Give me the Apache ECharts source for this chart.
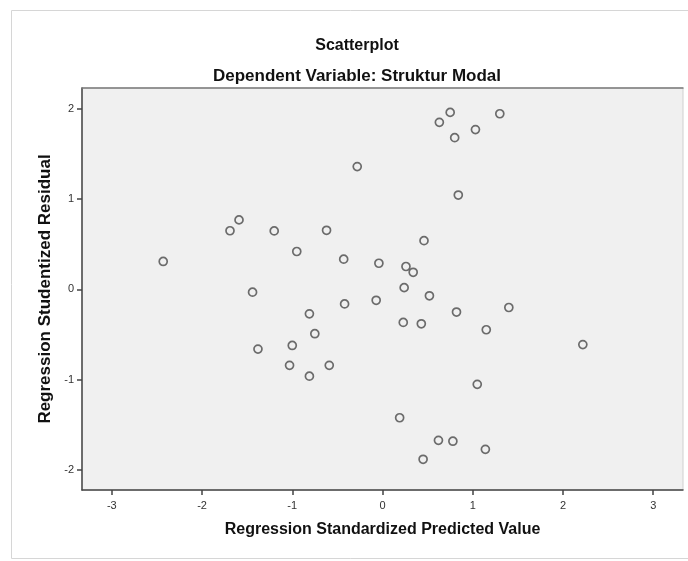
<!DOCTYPE html>
<html>
<head>
<meta charset="utf-8">
<script src="https://cdn.jsdelivr.net/npm/echarts@6/dist/echarts.min.js"></script>
<style>
html,body{margin:0;padding:0;background:#fff;}
#chart{width:688px;height:561px;}
</style>
</head>
<body>
<div id="chart"></div>
<script>
// Regression Standardized Predicted Value (x)
const predicted = [0.75, 0.63, 1.03, 0.80, 1.30, -0.28, 0.84, -1.20, -0.62, -0.95, 0.46, -0.43, -0.04, 0.26, 0.34, -1.44, 0.24, 0.52, -0.07, -2.43, -1.59, -1.69, -0.42, -0.81, 0.82, 0.23, 0.43, 1.15, -0.75, -1.38, -1.00, -1.03, -0.59, -0.81, 1.05, 0.19, 0.62, 0.78, 1.14, 0.45, 1.40, 2.22];
// Regression Studentized Residual (y)
const residual = [1.96, 1.85, 1.77, 1.68, 1.945, 1.36, 1.045, 0.648, 0.655, 0.42, 0.54, 0.335, 0.29, 0.254, 0.19, -0.03, 0.02, -0.07, -0.12, 0.31, 0.77, 0.65, -0.16, -0.27, -0.25, -0.365, -0.38, -0.446, -0.49, -0.66, -0.62, -0.84, -0.84, -0.96, -1.05, -1.42, -1.67, -1.68, -1.77, -1.88, -0.20, -0.61];
const xTicks = [-3, -2, -1, 0, 1, 2, 3];
const yTicks = [-2, -1, 0, 1, 2];

const chart = echarts.init(document.getElementById('chart'), null, {renderer: 'canvas'});
const font = 'Liberation Sans, Arial, sans-serif';
chart.setOption({
  animation: false,
  backgroundColor: '#ffffff',
  graphic: [{
    type: 'rect', left: 11, top: 10, z: -10,
    shape: {width: 700, height: 548},
    style: {fill: '#ffffff', stroke: '#d6d6d6', lineWidth: 1}
  }],
  title: [
    {text: 'Scatterplot', left: 352, top: 33, textAlign: 'center',
     textStyle: {fontFamily: font, fontSize: 16, fontWeight: 'bold', color: '#111'}},
    {text: 'Dependent Variable: Struktur Modal', left: 352, top: 63, textAlign: 'center',
     textStyle: {fontFamily: font, fontSize: 17, fontWeight: 'bold', color: '#111'}}
  ],
  grid: {left: 82, top: 88, width: 601, height: 402, show: true,
         backgroundColor: '#f0f0f0', borderColor: '#d0d0d0', borderWidth: 1},
  xAxis: [{
    type: 'value', min: -3.33, max: 3.33,
    name: 'Regression Standardized Predicted Value',
    nameLocation: 'middle', nameGap: 32,
    nameTextStyle: {fontFamily: font, fontSize: 16, fontWeight: 'bold', color: '#111'},
    axisLine: {show: true, onZero: false, lineStyle: {color: '#444', width: 1.5}},
    axisTick: {show: true, length: 5, customValues: xTicks, lineStyle: {color: '#444', width: 1.5}},
    axisLabel: {customValues: xTicks, margin: 10, fontFamily: font, fontSize: 11, color: '#333'},
    splitLine: {show: false}
  }, {
    type: 'value', position: 'top', min: -3.33, max: 3.33,
    axisLine: {show: true, onZero: false, lineStyle: {color: '#7a7a7a', width: 1.5}},
    axisTick: {show: false}, axisLabel: {show: false}, splitLine: {show: false}
  }],
  yAxis: {
    type: 'value', min: -2.22, max: 2.23,
    name: 'Regression Studentized Residual',
    nameLocation: 'middle', nameGap: 28, nameRotate: 90,
    nameTextStyle: {fontFamily: font, fontSize: 17, fontWeight: 'bold', color: '#111'},
    axisLine: {show: true, onZero: false, lineStyle: {color: '#444', width: 1.5}},
    axisTick: {show: true, length: 5, customValues: yTicks, lineStyle: {color: '#444', width: 1.5}},
    axisLabel: {customValues: yTicks, margin: 8, fontFamily: font, fontSize: 11, color: '#333'},
    splitLine: {show: false}
  },
  series: [{
    type: 'scatter',
    xAxisIndex: 0,
    symbol: 'circle', symbolSize: 8,
    itemStyle: {color: 'rgba(0,0,0,0)', borderColor: '#4a4a4a', borderWidth: 1.7},
    data: predicted.map((x, i) => [x, residual[i]])
  }]
});
</script>
</body>
</html>
